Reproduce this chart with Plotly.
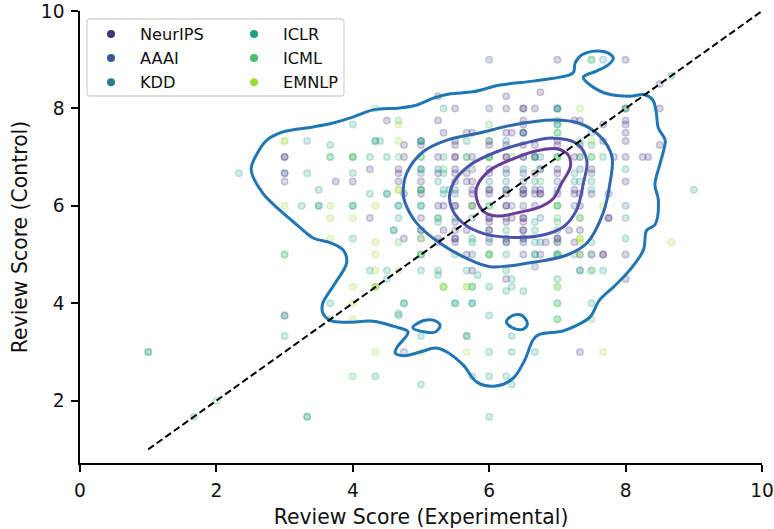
import plotly.graph_objects as go

venues = ["NeurIPS", "AAAI", "KDD", "ICLR", "ICML", "EMNLP"]
colors = ["#46327e", "#365c8d", "#277f8e", "#1fa187", "#4ac16d", "#a0da39"]

neurips = [(7,9),(8,9),(8.5,8.5),(6.75,8.33),(5.25,8.25),(6.25,8.25),(5.5,8),(6.25,8),(6.5,8),(6.5,8),(6.67,8),(7,8),(8,8),(8.5,8),
(4.5,7.75),(5.25,7.75),(6.5,7.75),(7.25,7.75),(7.33,7.75),(8,7.75),(6.5,7.67),(8,7.67),(7.67,7.67),(5.33,7.5),(5.67,7.5),(5.75,7.5),(6.25,7.5),(6.33,7.5),(6.5,7.5),(8,7.5),
(5.5,7.33),(6,7.33),(7,7.33),(7.67,7.33),(8,7.33),(5,7.25),(5.5,7.25),(6,7.25),(6.25,7.25),(6.5,7.25),(6.67,7.25),(7,7.25),(7.33,7.25),(8.5,7.25),
(3,7),(3,7),(4.75,7),(5.25,7),(5.5,7),(5.5,7),(5.75,7),(6.25,7),(6.25,7),(6.67,7),(7.25,7),(7.83,7),(8,7),(8.25,7),(8.33,7),
(4.25,6.75),(4.67,6.75),(5.5,6.75),(6,6.75),(6.75,6.75),(7,6.75),(7.5,6.75),(3,6.67),(4.67,6.67),(5.25,6.67),(5.5,6.67),(5.67,6.67),(6,6.67),(6.67,6.67),(7,6.67),
(3,6.5),(3.75,6.5),(4,6.5),(4.67,6.5),(5,6.5),(5.5,6.5),(5.67,6.5),(5.75,6.5),(8,6.5),(5.75,6.33),(6,6.33),(6.25,6.33),(6.5,6.33),(6.67,6.33),(6.75,6.33),(7.25,6.33),
(4.75,6.25),(5,6.25),(5.75,6.25),(6,6.25),(6.25,6.25),(6.5,6.25),(6.5,6.25),(6.67,6.25),(6.75,6.25),(6.75,6.25),(7,6.25),(7.25,6.25),(7.33,6.25),(7.5,6.25),(7.75,6.25),
(5.25,6),(5.33,6),(5.5,6),(6.25,6),(6.25,6),(6.67,6),(7.33,6),(4.25,5.75),(5,5.75),(6,5.75),(6,5.75),(6.25,5.75),(6.33,5.75),(6.5,5.75),(6.5,5.75),(7.75,5.75),
(5.5,5.67),(6,5.67),(6.25,5.67),(6.5,5.67),(5,5.5),(5.33,5.5),(5.5,5.5),(5.67,5.5),(6,5.5),(6.5,5.5),(6.5,5.5),(7.17,5.5),(7.33,5.5),
(4.75,5.33),(5.25,5.33),(5.5,5.33),(5.5,5.33),(6,5.33),(6.25,5.33),(6.5,5.33),(7,5.33),(7,5.33),(5.25,5.25),(5.5,5.25),(6.25,5.25),(6.5,5.25),(6.83,5.25),(7,5.25),(7.25,5.25),
(5.67,5),(6.5,5),(6.75,5),(7.33,5),(7.5,5),(7.67,5),(7.67,5),(8,5),(5.75,4.67),(6.25,4.5),(8,4.5),(7.33,3),(7.75,5.75),(4.75,7.25)]

aaai = [(6,9),(6,8),(6.5,7.5),(6.5,7),(6.25,6.75),(5.75,6.75),(6.25,6.67),(6.5,6.67),(7.5,6.67),(6.5,6.5),(7,6.5),(6,6.33),(6.5,6.33),(5.5,6),(5.75,6),
(6.33,6),(6.5,6),(7.25,6),(7.33,7),(6.5,7),(6,5.5),(5,5.33),(5.75,5),(6.67,4.75),(3,3.75),(4.75,3)]

kdd = [(7,8),(6.5,7.5),(5,7.33),(6.25,7.33),(6.67,7),(6.75,7),(5,6.75),(5.25,6.75),(6.5,6.75),(7.33,6.75),(5,6.67),(6,6.5),(6.25,6.5),(5,6.33),(5.5,6.33),(6.25,6.33),
(5.5,6.25),(5.75,6),(8,6),(5.75,5.75),(6.75,5.75),(7.33,5.75),(5,5.5),(6,5.25),(6.25,5.25),(6.75,5.25),(6.67,5),(3,6.67),(7.33,4.67),(5,7.33)]

iclr = [(1,3),(1,3),(1.67,1.67),(3.33,1.67),(3.33,1.67),(6,1.67),(5,2.33),(6.33,2.33),(4.33,2.5),(5.75,2.5),(6,2.5),(6.25,2.5),(6,3),(6.33,3),(6.67,3),
(3,3.33),(5,3.33),(5.67,3.33),(5.67,3.33),(6.33,3.33),(4.67,3.75),(4.67,3.79),(3,3.75),(6,3.75),(3.67,4),(4.75,4),(5.5,4),(5.75,4),(4.75,4.0),(5.5,4.0),(5.75,4.0),(7.5,4),
(6,4.34),(6.33,4.34),(5.75,4.34),(6.25,4.25),(6.5,4.25),(4.5,4.5),(6.33,4.5),(7,4.5),(4.25,4.67),(5,4.67),(4.5,4.67),(5.25,4.67),(5.67,4.67),(6.25,4.67),(7.33,4.67),(7.67,4.67),(5.25,4.58),(5.83,4.58),
(5.5,5),(6.25,5),(7,5),(7,5),(7.25,5),(6.67,5),(5.75,5.25),(6.67,5.25),(7.5,5.25),(6.5,5.33),(5.75,5.33),(8,5.33),(4.6,5.5),(4.6,5.5),(6.25,5.5),(6.67,5.5),(7,5.5),
(5.25,5.67),(6.67,5.67),(4,5.33),(4.67,5.75),(5.25,5.75),(5.5,5.75),(8,5.75),(4.67,6),(3.25,6),(3.5,6),(3.5,6),(4,6),(4,6),(5,6),(5,6),(4.67,6),
(4.25,6.25),(4.5,6.25),(4.5,6.25),(5.33,6.25),(3.5,6.33),(5.33,6.33),(5.42,6.33),(7,6.33),(7.5,6.33),(5.25,6.5),(6.67,6.5),(7.25,6.5),(7.33,6.5),(7.5,6.5),
(7.25,6.67),(5.33,6.67),(6.75,6.75),(8,6.75),(2.33,6.67),(3.33,6.67),(4,6.67),(4.5,7),(4.25,7),(5.33,7),(5.67,7),(6.67,7),(7.67,7),(3.33,7.33),(4.33,7.33),(4.4,7.33),(5,7.33),(5.67,7.33),(3.67,7.25),(7.5,7.25),
(4,7.67),(4.33,7.33),(7,7.75),(7,7.67),(7,7.67),(5.33,8),(8,8),(7,8),(7.67,9),(5,6.33),(9,6.33),(8.67,8.67),(5,6.75),(7.5,7.5)]

icml = [(7.5,9),(7.5,9),(4,2.5),(7,3.67),(7,3.67),(3.67,3.67),(7,4),(7,4),(5.33,4.34),(4.33,4.34),(5.75,4.34),(7,4.34),(7.5,4.67),(7.5,4.67),(4.67,5.25),(5,5),(3,5),(3,5),
(6,5),(6,5),(6,5),(7,5),(7,5),(5,5),(5,5),(7,5.67),(7,5.75),(5,6.33),(6.33,7),(6,6),(6,6),(7,6),(7,6),(7,6),(6.75,6.5),(4.67,7),(5,7),(5,7),(3.67,7),(3.67,7),(4,7),(4,7),(4,7),
(5.67,7),(6,7),(6,7),(6,7),(6,7),(7,7),(7,7),(7,7),(7.33,7),(7.5,7),(7.5,7),(7.33,7.33),(6,7.33),(7,7.5),(7,7.5),(4.33,8),(6,7.67),(4.67,7.75),(8,8),(7.5,5),(5.33,6.75),(5.25,5.75),(7,5.25),(2,2),(7.5,3.67)]

emnlp = [(4,3.67),(4.33,3),(5,3),(5.67,3),(7.67,3),(4,4),(4,4.34),(4.33,4.34),(4.33,4.34),(5.33,4.34),(5.33,4.34),(5.67,4.34),(5.67,4.34),(4.33,4.67),(4.67,4.67),(7,4.34),
(4.33,5),(7.33,5),(4.33,5.25),(7.33,5.25),(3.67,5.33),(5,5.33),(7.33,5.33),(7.33,5.33),(3.67,5.75),(4,5.75),(7.33,5.75),(3,6),(4.33,6),(3.67,6),(5.75,6),(7.67,6),(4.67,6.33),(4.67,6.33),
(3,7.33),(3,7.33),(4.67,7.33),(7.33,8),(8.67,5.25),(4.67,7.67),(7.5,7.33)]

venue_points = [neurips, aaai, kdd, iclr, icml, emnlp]

contour_outer = [(2.51,6.74),(2.60,7.08),(2.74,7.35),(2.98,7.52),(3.42,7.62),(3.71,7.70),(4.00,7.82),(4.30,7.97),(4.69,8.01),(4.94,8.07),(5.18,8.21),(5.43,8.30),(5.76,8.34),(6.16,8.48),(6.64,8.56),(7.18,8.69),(7.24,8.75),(7.26,8.93),(7.36,9.10),(7.58,9.18),(7.74,9.14),(7.82,9.03),(7.74,8.89),(7.58,8.77),(7.38,8.64),(7.48,8.48),(7.73,8.30),(8.06,8.25),(8.28,8.28),(8.40,8.17),(8.45,7.91),(8.48,7.60),(8.58,7.35),(8.56,7.15),(8.50,6.84),(8.43,6.43),(8.48,6.12),(8.43,5.61),(8.31,5.50),(8.26,5.09),(8.06,4.68),(7.82,4.33),(7.62,4.07),(7.48,3.72),(7.29,3.55),(7.08,3.43),(6.72,3.35),(6.64,3.24),(6.52,2.83),(6.35,2.46),(6.09,2.30),(5.82,2.38),(5.62,2.73),(5.38,3.00),(5.21,3.08),(4.99,3.00),(4.74,2.92),(4.62,2.98),(4.65,3.10),(4.81,3.41),(4.59,3.53),(4.30,3.63),(3.91,3.61),(3.67,3.65),(3.56,3.80),(3.56,4.00),(3.74,4.41),(3.91,4.83),(3.86,5.09),(3.67,5.24),(3.42,5.34),(3.18,5.61),(2.93,5.91),(2.68,6.26),(2.51,6.74)]
island_a = [(4.88,3.50),(5.03,3.64),(5.21,3.64),(5.28,3.54),(5.21,3.41),(5.06,3.41),(4.88,3.50)]
island_b = [(6.25,3.62),(6.35,3.75),(6.48,3.75),(6.56,3.58),(6.50,3.47),(6.35,3.49),(6.25,3.62)]
contour_2 = [(4.74,6.26),(4.79,6.67),(5.03,7.11),(5.38,7.35),(5.87,7.50),(6.35,7.66),(6.94,7.76),(7.33,7.69),(7.63,7.42),(7.80,7.01),(7.77,6.46),(7.67,5.85),(7.43,5.23),(7.14,4.99),(6.55,4.82),(6.01,4.75),(5.67,4.92),(5.28,5.23),(4.94,5.64),(4.77,6.05),(4.74,6.26)]
contour_3 = [(5.42,6.22),(5.50,6.53),(5.72,6.84),(6.11,7.11),(6.50,7.28),(6.94,7.39),(7.28,7.28),(7.43,6.94),(7.38,6.46),(7.28,5.91),(7.09,5.57),(6.79,5.40),(6.36,5.35),(5.92,5.43),(5.62,5.64),(5.45,5.95),(5.42,6.22)]
contour_4 = [(5.82,6.12),(5.82,6.39),(6.01,6.73),(6.36,6.97),(6.70,7.13),(6.99,7.17),(7.16,7.04),(7.19,6.80),(7.06,6.46),(6.94,6.15),(6.75,5.98),(6.45,5.87),(6.11,5.79),(5.92,5.88),(5.82,6.12)]
contour_colors = ["#1f77b4", "#2e6bae", "#4a55a8", "#6a3d9a"]
diagonal = [1, 10]

tick_vals_x = [0, 2, 4, 6, 8, 10]
tick_vals_y = [2, 4, 6, 8, 10]

def rgba(hex_color, a):
    r, g, b = int(hex_color[1:3], 16), int(hex_color[3:5], 16), int(hex_color[5:7], 16)
    return f"rgba({r},{g},{b},{a})"

fig = go.Figure()
for name, col, pts in zip(venues, colors, venue_points):
    fig.add_trace(go.Scatter(x=[p[0] for p in pts], y=[p[1] for p in pts], mode="markers", name=name, showlegend=False, cliponaxis=False,
                             marker=dict(size=6.5, color=rgba(col, 0.2), line=dict(width=1.5, color=rgba(col, 0.25)))))

for path, col in [(contour_outer, contour_colors[0]), (island_a, contour_colors[0]), (island_b, contour_colors[0]),
                  (contour_2, contour_colors[1]), (contour_3, contour_colors[2]), (contour_4, contour_colors[3])]:
    fig.add_trace(go.Scatter(x=[p[0] for p in path], y=[p[1] for p in path], mode="lines", showlegend=False, hoverinfo="skip",
                             line=dict(color=col, width=3, shape="spline", smoothing=1.0)))

fig.add_trace(go.Scatter(x=diagonal, y=diagonal, mode="lines", showlegend=False, line=dict(color="black", width=2, dash="7px,3.5px")))

for i, (name, col) in enumerate(zip(venues, colors)):
    fig.add_trace(go.Scatter(x=[None], y=[None], mode="markers", name=name, legend="legend" if i < 3 else "legend2",
                             legendgroup=name, marker=dict(size=8, color=col)))

legend_common = dict(bgcolor="rgba(0,0,0,0)", borderwidth=0, font=dict(family="DejaVu Sans", size=16.2, color="#111111"),
                     tracegroupgap=0, xanchor="left", yanchor="top", yref="paper", xref="paper", itemwidth=48)

axis_common = dict(showgrid=False, zeroline=False, showline=True, linecolor="black", linewidth=1.5, ticks="outside",
                   ticklen=7, tickwidth=1.5, tickcolor="black", ticklabeloverflow="allow", ticklabelstandoff=3,
                   tickfont=dict(family="DejaVu Sans", size=18.6, color="#111111"),
                   title_font=dict(family="DejaVu Sans", size=20.4, color="#111111"))

fig_w, fig_h = 774, 529
plot_l, plot_t, plot_r, plot_b = 80, 11, 762, 463
pw = plot_r - plot_l
ph = plot_b - plot_t
def pxx(v):
    return (v - plot_l) / pw
def pxy(v):
    return (plot_b - v) / ph
x0, x1, y0, y1 = pxx(87), pxx(344), pxy(96), pxy(19)
rx, ry = 3 / pw, 3 / ph
legend_path = (f"M {x0+rx} {y0} L {x1-rx} {y0} Q {x1} {y0} {x1} {y0+ry} L {x1} {y1-ry} Q {x1} {y1} {x1-rx} {y1} "
               f"L {x0+rx} {y1} Q {x0} {y1} {x0} {y1-ry} L {x0} {y0+ry} Q {x0} {y0} {x0+rx} {y0} Z")

fig.update_layout(
    width=fig_w, height=fig_h, autosize=False, template=None, plot_bgcolor="white", paper_bgcolor="white",
    margin=dict(l=plot_l, r=fig_w - plot_r, t=plot_t, b=fig_h - plot_b),
    xaxis=dict(range=[0, 10], tickvals=tick_vals_x, title=dict(text="Review Score (Experimental)", standoff=11), **axis_common),
    yaxis=dict(range=[0.72, 10], tickvals=tick_vals_y, title=dict(text="Review Score (Control)", standoff=8), **axis_common),
    legend=dict(x=pxx(82), y=pxy(17), **legend_common),
    legend2=dict(x=pxx(225), y=pxy(17), **legend_common),
    shapes=[dict(type="path", path=legend_path, xref="paper", yref="paper", line=dict(color="rgba(204,204,204,0.8)", width=1.3),
                 fillcolor="rgba(255,255,255,0.8)", layer="above")],
    font=dict(family="DejaVu Sans"),
)
fig.write_html("out.html", config={"displayModeBar": False}, post_script="document.body.style.margin='0';")
